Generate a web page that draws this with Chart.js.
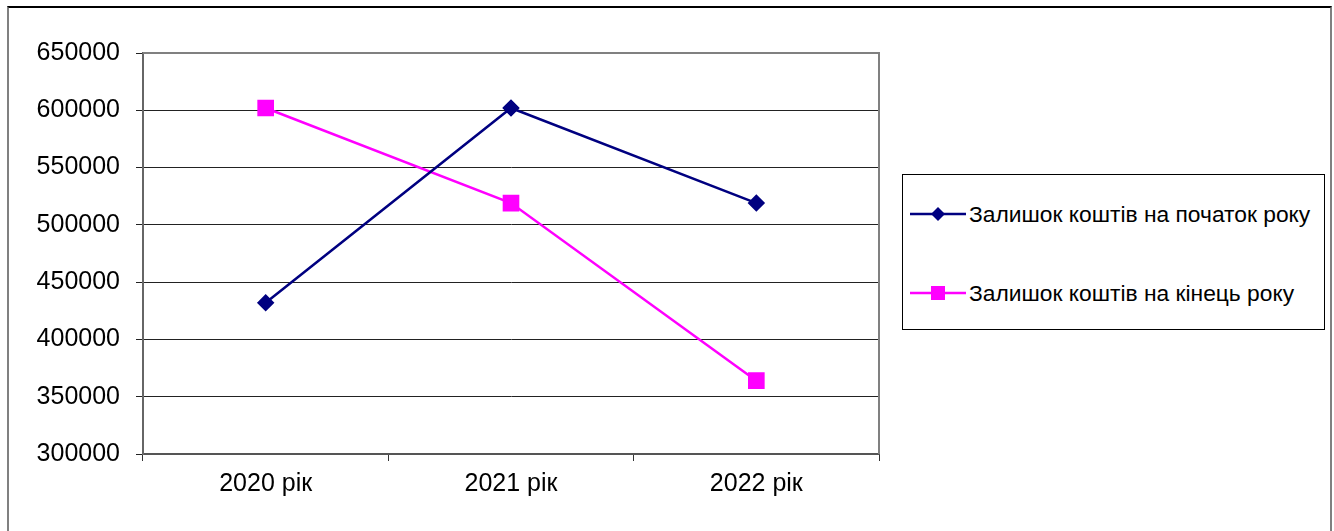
<!DOCTYPE html>
<html>
<head>
<meta charset="utf-8">
<script src="https://cdn.jsdelivr.net/npm/chart.js@4"></script>
<style>
    body { margin: 0; background: #fff; }
    #wrap { position: relative; width: 1334px; height: 531px; overflow: hidden; font-family: "Liberation Sans", Arial, sans-serif; }
    #frame { position: absolute; left: 7px; top: 6px; width: 1321px; height: 540px;
             border-left: 2px solid #808080; border-right: 2px solid #808080; border-top: 2px solid #000; }
    #legend { position: absolute; left: 902px; top: 174px; width: 421px; height: 154px; border: 1px solid #000; background: #fff; }
    .item { position: absolute; left: 7px; height: 30px; display: flex; align-items: center; font-size: 22.8px; color: #000; white-space: nowrap; }
    .item svg { margin-right: 3px; }
</style>
</head>
<body>
<div id="wrap">
    <div id="frame"></div>
    <canvas id="chart" width="1334" height="531"></canvas>
    <div id="legend"></div>
</div>
<script>
// chart data
const years = ['2020 рік', '2021 рік', '2022 рік'];
const startBalance = [432000, 602000, 519000];
const endBalance = [602000, 519000, 364000];
const seriesNames = ['Залишок коштів на початок року', 'Залишок коштів на кінець року'];
const yTicks = [300000, 350000, 400000, 450000, 500000, 550000, 600000, 650000];

const navy = '#000080';
const magenta = '#FF00FF';

// draws the top and right edges of the plot area
const plotFrame = {
    id: 'plotFrame',
    afterDraw(chart) {
        const a = chart.chartArea;
        const ctx = chart.ctx;
        ctx.save();
        ctx.strokeStyle = '#808080';
        ctx.lineWidth = 2;
        ctx.beginPath();
        ctx.moveTo(a.left, a.top);
        ctx.lineTo(a.right, a.top);
        ctx.lineTo(a.right, a.bottom);
        ctx.stroke();
        ctx.restore();
    }
};

const ctx = document.getElementById('chart').getContext('2d');
const chart = new Chart(ctx, {
    type: 'line',
    data: {
        labels: years,
        datasets: [{
            label: seriesNames[0],
            data: startBalance,
            borderColor: navy,
            backgroundColor: navy,
            borderWidth: 2.5,
            pointStyle: 'rectRot',
            pointRadius: 7,
            pointHoverRadius: 7,
            tension: 0
        }, {
            label: seriesNames[1],
            data: endBalance,
            borderColor: magenta,
            backgroundColor: magenta,
            borderWidth: 2.5,
            pointStyle: 'rect',
            pointRadius: 10,
            pointHoverRadius: 10,
            tension: 0
        }]
    },
    options: {
        responsive: false,
        animation: false,
        layout: {
            padding: { left: 0, top: 53, right: 455, bottom: 0 }
        },
        plugins: {
            legend: { display: false },
            tooltip: { enabled: false }
        },
        scales: {
            x: {
                offset: true,
                afterFit: function(scale) { scale.height = 77; },
                grid: { drawOnChartArea: false, drawTicks: true, tickLength: 7, color: '#333', offset: true },
                border: { display: true, color: '#555', width: 2 },
                ticks: { color: '#000', font: { family: 'Liberation Sans, Arial', size: 25 }, padding: 8 }
            },
            y: {
                min: 300000,
                max: 650000,
                afterFit: function(scale) { scale.width = 143; },
                afterBuildTicks: function(scale) { scale.ticks = yTicks.map(v => ({ value: v })); },
                grid: { color: '#222', lineWidth: 1, tickLength: 7 },
                border: { display: true, color: '#666', width: 2 },
                ticks: {
                    color: '#000',
                    font: { family: 'Liberation Sans, Arial', size: 25 },
                    padding: 16,
                    callback: function(value) { return String(value); }
                }
            }
        }
    },
    plugins: [plotFrame]
});

// legend built from the datasets
const legend = document.getElementById('legend');
const legendTops = [24, 103];
chart.data.datasets.forEach((ds, i) => {
    const item = document.createElement('div');
    item.className = 'item';
    item.style.top = legendTops[i] + 'px';
    const marker = ds.pointStyle === 'rect'
        ? '<rect x="21" y="8" width="14" height="14" fill="' + ds.borderColor + '"/>'
        : '<polygon points="28,8 35,15 28,22 21,15" fill="' + ds.borderColor + '"/>';
    item.innerHTML = '<svg width="56" height="30"><line x1="0" y1="15" x2="56" y2="15" stroke="' + ds.borderColor + '" stroke-width="2.5"/>' + marker + '</svg>';
    item.appendChild(document.createTextNode(ds.label));
    legend.appendChild(item);
});
</script>
</body>
</html>
